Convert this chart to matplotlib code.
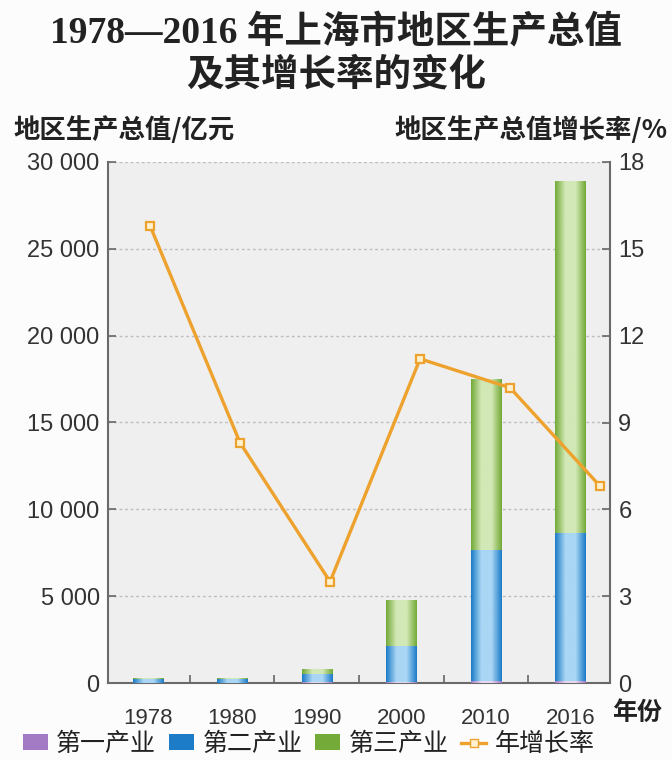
import matplotlib
matplotlib.use('Agg')
import numpy as np
import matplotlib.pyplot as plt
from matplotlib.colors import LinearSegmentedColormap
from matplotlib.patches import Patch
from matplotlib.lines import Line2D

plt.rcParams['font.family'] = ['Noto Sans CJK SC', 'DejaVu Sans']

# data
years = ['1978', '1980', '1990', '2000', '2010', '2016']
primary = [11, 10, 35, 80, 110, 110]            # 第一产业 / 亿元
secondary = [211, 236, 505, 2050, 7550, 8500]   # 第二产业 / 亿元
tertiary = [51, 66, 245, 2650, 9850, 20300]     # 第三产业 / 亿元
growth = [15.8, 8.3, 3.5, 11.2, 10.2, 6.8]      # 年增长率 / %

left_ticks = [0, 5000, 10000, 15000, 20000, 25000, 30000]
left_labels = ['0', '5 000', '10 000', '15 000', '20 000', '25 000', '30 000']
right_ticks = [0, 3, 6, 9, 12, 15, 18]

# colours (edge, centre) for the shaded bars
c_pri = ('#a37ac4', '#e6d6f0')
c_sec = ('#1c7cc8', '#a9d6f4')
c_ter = ('#73aa38', '#d2e8b6')
c_line = '#eea22e'

num_font = ['Liberation Sans', 'Noto Sans CJK SC']
txt_col = '#333333'

fig = plt.figure(figsize=(6.72, 7.6), dpi=100)
fig.patch.set_facecolor('#fcfcfc')
rect = [108 / 672, 1 - 683 / 760, 502 / 672, 521 / 760]
ax = fig.add_axes(rect)
ax.set_facecolor('#efefef')

x = np.arange(len(years))
width = 0.36


def shaded_bars(bottom, heights, cols):
    bars = ax.bar(x, heights, width, bottom=bottom, color=cols[0], linewidth=0, zorder=2)
    cmap = LinearSegmentedColormap.from_list('g', [cols[0], cols[1], cols[1], cols[0]])
    grad = np.linspace(0, 1, 64).reshape(1, -1)
    for b in bars:
        x0, y0 = b.get_x(), b.get_y()
        im = ax.imshow(grad, cmap=cmap, aspect='auto', zorder=3,
                       extent=(x0, x0 + b.get_width(), y0, y0 + b.get_height()))
        im.set_clip_path(b)
    return bars


bot2 = np.array(primary)
bot3 = bot2 + np.array(secondary)
shaded_bars(0, primary, c_pri)
shaded_bars(bot2, secondary, c_sec)
shaded_bars(bot3, tertiary, c_ter)

ax.set_xlim(-0.47, 5.47)
ax.set_ylim(0, 30000)
ax.set_yticks(left_ticks)
ax.set_yticklabels(left_labels, family=num_font, fontsize=17, color=txt_col)
ax.yaxis.grid(True, linestyle=(0, (2, 2)), color='#bdbdbd', linewidth=1, zorder=1)
ax.set_axisbelow(True)
ax.tick_params(axis='y', direction='in', length=6, width=1.2, color='#666666', pad=6)

ax.set_xticks(x)
ax.set_xticklabels(years, family=num_font, fontsize=16, color=txt_col)
ax.tick_params(axis='x', which='major', length=0, pad=18)
ax.set_xticks(x[:-1] + 0.5, minor=True)
ax.tick_params(axis='x', which='minor', direction='in', length=6, width=1.2, color='#666666')

for s in ['top', 'right']:
    ax.spines[s].set_visible(False)
for s in ['left', 'bottom']:
    ax.spines[s].set_color('#6a6a6a')
    ax.spines[s].set_linewidth(1.5)

# growth-rate line on its own axes (points sit a bit right of the bars)
ax2 = fig.add_axes(rect)
ax2.patch.set_visible(False)
ax2.set_xlim(-0.467, 5.11)
ax2.set_ylim(0, 18)
ax2.plot(x, growth, color=c_line, linewidth=2.4, marker='s', markersize=6,
         markerfacecolor='#fff1d0', markeredgecolor=c_line, markeredgewidth=1.6, zorder=5)
ax2.xaxis.set_visible(False)
ax2.yaxis.tick_right()
ax2.set_yticks(right_ticks)
ax2.set_yticklabels([str(t) for t in right_ticks], family=num_font, fontsize=17, color=txt_col)
ax2.tick_params(axis='y', direction='in', length=6, width=1.2, color='#666666', pad=6)
for s in ['top', 'left', 'bottom']:
    ax2.spines[s].set_visible(False)
ax2.spines['right'].set_color('#6a6a6a')
ax2.spines['right'].set_linewidth(1.5)

# titles and axis names
title_font = ['Liberation Serif', 'Noto Sans CJK SC']
fig.text(0.5, 1 - 33 / 760, '1978—2016 年上海市地区生产总值', ha='center', va='center',
         fontsize=27, fontweight='bold', family=title_font, color='#222222')
fig.text(0.5, 1 - 76 / 760, '及其增长率的变化', ha='center', va='center',
         fontsize=27, fontweight='bold', family=title_font, color='#222222')
fig.text(13 / 672, 1 - 130 / 760, '地区生产总值/亿元', ha='left', va='center',
         fontsize=19, fontweight='bold', color='#222222')
fig.text(668 / 672, 1 - 130 / 760, '地区生产总值增长率/%', ha='right', va='center',
         fontsize=19, fontweight='bold', color='#222222')
fig.text(612 / 672, 1 - 713 / 760, '年份', ha='left', va='center',
         fontsize=18, fontweight='bold', color='#222222')

handles = [
    Patch(facecolor=c_pri[0], edgecolor='none'),
    Patch(facecolor=c_sec[0], edgecolor='none'),
    Patch(facecolor=c_ter[0], edgecolor='none'),
    Line2D([0], [0], color=c_line, linewidth=2.4, marker='s', markersize=6,
           markerfacecolor='#fff1d0', markeredgecolor=c_line),
]
labels = ['第一产业', '第二产业', '第三产业', '年增长率']
fig.legend(handles, labels, loc='center left', bbox_to_anchor=(0 / 672, 1 - 744 / 760),
           ncol=4, frameon=False, fontsize=18, handlelength=1.0, handleheight=0.6,
           handletextpad=0.35, columnspacing=0.5, labelcolor='#222222')

fig.savefig('out.png', dpi=100, facecolor=fig.get_facecolor())
